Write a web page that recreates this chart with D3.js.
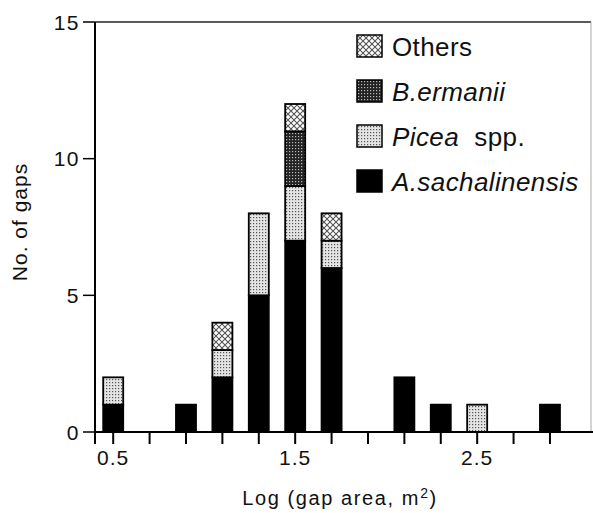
<!DOCTYPE html>
<html>
<head>
<meta charset="utf-8">
<script src="https://cdn.jsdelivr.net/npm/d3@7"></script>
<style>
  body { margin: 0; background: #fff; }
  text { font-family: "Liberation Sans", Arial, Helvetica, sans-serif; fill: #111; }
</style>
</head>
<body>
<svg id="chart" width="593" height="513"></svg>
<script>
// gap size classes (log10 of gap area, m2) and counts per gap maker
const bins = [0.5, 0.9, 1.1, 1.3, 1.5, 1.7, 2.1, 2.3, 2.5, 2.9]
const abies = [1, 1, 2, 5, 7, 6, 2, 1, 0, 1]
const picea = [1, 0, 1, 3, 2, 1, 0, 0, 1, 0]
const betula = [0, 0, 0, 0, 2, 0, 0, 0, 0, 0]
const others = [0, 0, 1, 0, 1, 1, 0, 0, 0, 0]

const seriesKeys = ["abies", "picea", "betula", "others"]
const legendLabels = [
  { key: "others", parts: [["Others", false]] },
  { key: "betula", parts: [["B.ermanii", true]] },
  { key: "picea", parts: [["Picea", true], ["  spp.", false]] },
  { key: "abies", parts: [["A.sachalinensis", true]] }
]
const yTicks = [0, 5, 10, 15]
const xTicks = [0.5, 0.7, 0.9, 1.1, 1.3, 1.5, 1.7, 1.9, 2.1, 2.3, 2.5, 2.7, 2.9]
const xLabels = [0.5, 1.5, 2.5]

const rows = bins.map((b, i) => ({
  bin: b, abies: abies[i], picea: picea[i], betula: betula[i], others: others[i]
}))

const svg = d3.select("#chart")
const plotLeft = 95, plotRight = 591, plotTop = 22, plotBottom = 432
const barHalf = 0.055

const x = d3.scaleLinear().domain([0.4, 3.12]).range([plotLeft, 590])
const y = d3.scaleLinear().domain([0, 15]).range([plotBottom, plotTop])

// fill patterns imitating the screen tones
const defs = svg.append("defs")

const pOthers = defs.append("pattern").attr("id", "p-others")
    .attr("patternUnits", "userSpaceOnUse").attr("width", 6).attr("height", 6)
pOthers.append("rect").attr("width", 6).attr("height", 6).attr("fill", "#fff")
pOthers.append("path").attr("d", "M0,0L6,6M6,0L0,6")
    .attr("stroke", "#555").attr("stroke-width", 1.1)

const pBetula = defs.append("pattern").attr("id", "p-betula")
    .attr("patternUnits", "userSpaceOnUse").attr("width", 3).attr("height", 3)
pBetula.append("rect").attr("width", 3).attr("height", 3).attr("fill", "#222")
pBetula.append("rect").attr("x", 1).attr("y", 1).attr("width", 1.2).attr("height", 1.2).attr("fill", "#bbb")

const pPicea = defs.append("pattern").attr("id", "p-picea")
    .attr("patternUnits", "userSpaceOnUse").attr("width", 3).attr("height", 3)
pPicea.append("rect").attr("width", 3).attr("height", 3).attr("fill", "#e4e4e4")
pPicea.append("rect").attr("x", 1).attr("y", 1).attr("width", 1.2).attr("height", 1.2).attr("fill", "#555")

const fills = {
  abies: "#000",
  picea: "url(#p-picea)",
  betula: "url(#p-betula)",
  others: "url(#p-others)"
}

// frame
svg.append("line")
    .attr("x1", plotLeft).attr("x2", plotRight)
    .attr("y1", plotTop).attr("y2", plotTop)
    .attr("stroke", "#222").attr("stroke-width", 1.5)
svg.append("line")
    .attr("x1", plotRight).attr("x2", plotRight)
    .attr("y1", plotTop).attr("y2", plotBottom)
    .attr("stroke", "#aaa").attr("stroke-width", 1)

// stacked bars
const stacked = d3.stack().keys(seriesKeys)(rows)

svg.append("g")
  .selectAll("g")
  .data(stacked)
  .join("g")
    .attr("fill", s => fills[s.key])
  .selectAll("rect")
  .data(s => s.filter(d => d[1] > d[0]))
  .join("rect")
    .attr("x", d => x(d.data.bin - barHalf))
    .attr("width", d => x(d.data.bin + barHalf) - x(d.data.bin - barHalf))
    .attr("y", d => y(d[1]))
    .attr("height", d => y(d[0]) - y(d[1]))
    .attr("stroke", "#000")
    .attr("stroke-width", 1.8)

// x axis
const xAxis = svg.append("g").attr("transform", `translate(0,${plotBottom})`)
xAxis.append("line")
    .attr("x1", plotLeft).attr("x2", 593)
    .attr("stroke", "#000").attr("stroke-width", 2)
xAxis.selectAll("line.tick")
  .data(xTicks)
  .join("line")
    .attr("class", "tick")
    .attr("x1", d => x(d)).attr("x2", d => x(d))
    .attr("y1", 0).attr("y2", 12)
    .attr("stroke", "#000").attr("stroke-width", 2)
xAxis.selectAll("text")
  .data(xLabels)
  .join("text")
    .attr("x", d => x(d))
    .attr("y", 33)
    .attr("text-anchor", "middle")
    .attr("font-size", 21)
    .attr("letter-spacing", 1)
    .text(d => d3.format(".1f")(d))

// y axis
const yAxis = svg.append("g")
yAxis.append("line")
    .attr("x1", plotLeft).attr("x2", plotLeft)
    .attr("y1", plotTop).attr("y2", plotBottom + 12)
    .attr("stroke", "#000").attr("stroke-width", 2)
yAxis.selectAll("line.tick")
  .data(yTicks)
  .join("line")
    .attr("class", "tick")
    .attr("x1", plotLeft - 12).attr("x2", plotLeft)
    .attr("y1", d => y(d)).attr("y2", d => y(d))
    .attr("stroke", "#000").attr("stroke-width", 1.5)
yAxis.selectAll("text")
  .data(yTicks)
  .join("text")
    .attr("x", plotLeft - 15)
    .attr("y", d => y(d) + 7.5)
    .attr("text-anchor", "end")
    .attr("font-size", 21)
    .attr("letter-spacing", 1.5)
    .text(d => d)

// axis titles
const xTitle = svg.append("text")
    .attr("x", 340).attr("y", 505)
    .attr("text-anchor", "middle")
    .attr("font-size", 20)
    .attr("letter-spacing", 1.6)
xTitle.append("tspan").text("Log (gap area, m")
xTitle.append("tspan").attr("dy", -7).attr("font-size", 14).text("2")
xTitle.append("tspan").attr("dy", 7).text(")")

svg.append("text")
    .attr("transform", "translate(27,222) rotate(-90)")
    .attr("text-anchor", "middle")
    .attr("font-size", 21)
    .attr("letter-spacing", 1)
    .text("No. of gaps")

// legend
const legend = svg.append("g")
  .selectAll("g")
  .data(legendLabels)
  .join("g")
    .attr("transform", (d, i) => `translate(357,${35 + i * 45})`)

legend.append("rect")
    .attr("width", 25).attr("height", 22)
    .attr("fill", d => fills[d.key])
    .attr("stroke", "#000").attr("stroke-width", 1.5)

legend.append("text")
    .attr("x", 35).attr("y", 21)
    .attr("font-size", 26)
    .attr("letter-spacing", 0.4)
    .attr("xml:space", "preserve")
  .selectAll("tspan")
  .data(d => d.parts)
  .join("tspan")
    .attr("font-style", p => p[1] ? "italic" : "normal")
    .text(p => p[0])
</script>
</body>
</html>
